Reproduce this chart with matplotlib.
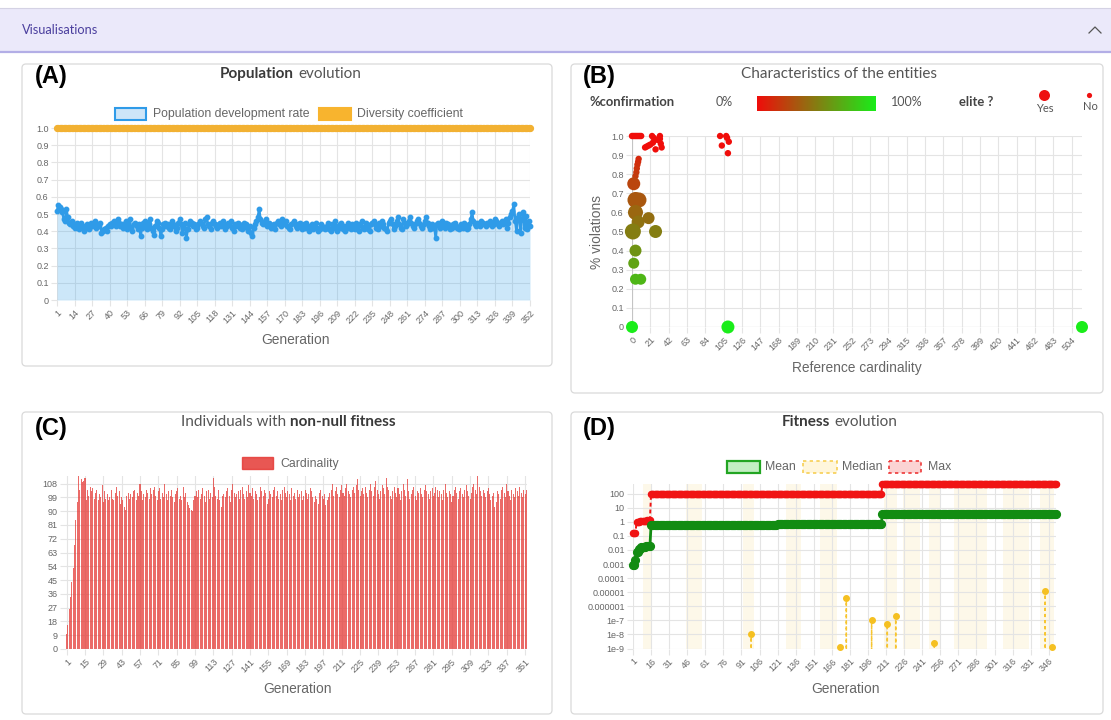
import numpy as np
import matplotlib
matplotlib.use("Agg")
import matplotlib.pyplot as plt
from matplotlib.patches import FancyBboxPatch, Rectangle
from matplotlib.colors import LinearSegmentedColormap

plt.rcParams["font.family"] = ["Liberation Sans", "DejaVu Sans"]

W, H = 1111, 720
TITLE_FONT = ["Lato", "DejaVu Sans"]
GRID = "#e4e4e4"
ZERO = "#c4c4c4"
TXT = "#666666"

# ---- (A) population evolution, values in hundredths -----------------------
dev_rate_pct = [
    52, 55, 54, 53, 51, 47, 46, 53, 48, 45, 44, 46, 43, 42, 44, 45, 41, 43, 45, 42,
    40, 43, 44, 42, 41, 45, 43, 44, 46, 42, 44, 43, 45, 39, 40, 41, 42, 40, 43, 44,
    43, 45, 46, 44, 43, 47, 45, 43, 44, 42, 44, 46, 41, 43, 47, 42, 40, 44, 45, 43,
    41, 44, 37, 42, 45, 46, 43, 41, 44, 47, 42, 40, 38, 43, 46, 45, 42, 37, 41, 44,
    45, 43, 44, 42, 41, 46, 44, 43, 40, 42, 45, 47, 44, 39, 42, 45, 36, 41, 44, 46,
    45, 43, 44, 41, 42, 44, 46, 45, 43, 42, 47, 48, 44, 43, 41, 45, 46, 44, 43, 42,
    44, 45, 43, 46, 44, 41, 43, 45, 44, 46, 42, 40, 44, 43, 45, 44, 42, 41, 43, 45,
    44, 42, 40, 43, 39, 37, 42, 44, 46, 48, 53, 47, 45, 44, 46, 47, 43, 45, 44, 42,
    43, 44, 41, 45, 46, 44, 43, 47, 45, 44, 46, 43, 42, 41, 44, 45, 46, 43, 42, 44,
    45, 43, 41, 44, 42, 45, 43, 40, 42, 44, 41, 43, 45, 42, 40, 41, 44, 43, 42, 41,
    43, 45, 41, 40, 44, 42, 46, 43, 40, 42, 44, 45, 41, 43, 40, 42, 45, 43, 41, 44,
    42, 41, 45, 43, 40, 44, 46, 42, 41, 45, 43, 41, 40, 44, 45, 46, 44, 42, 41, 45,
    43, 46, 44, 42, 41, 40, 45, 46, 47, 44, 41, 43, 46, 48, 44, 42, 41, 47, 45, 43,
    44, 46, 48, 45, 43, 42, 44, 46, 47, 45, 43, 42, 44, 46, 48, 45, 43, 41, 44, 42,
    43, 36, 44, 45, 42, 44, 46, 43, 42, 45, 44, 43, 41, 42, 44, 45, 43, 42, 41, 43,
    44, 42, 45, 43, 41, 42, 44, 47, 51, 46, 44, 43, 45, 44, 43, 46, 45, 44, 43, 45,
    44, 46, 45, 43, 44, 47, 46, 44, 43, 45, 46, 44, 45, 47, 42, 45, 48, 50, 52, 56,
    46, 40, 48, 50, 39, 47, 51, 42, 49, 41, 46, 43,
]
diversity_coeff = [1.0] * 352
a_ticks = list(range(1, 353, 13))

# ---- (B) characteristics of the entities ---------------------------------
ref_card = [0, 1.5, 3, 4.5, 6, 7.5, 9, 10.5,
            23, 25, 29, 32, 32, 33, 15, 19, 27, 21, 34, 17, 24,
            101, 108, 109, 111, 103, 110,
            7.6, 7, 6.2, 5.5, 5, 4,
            2, 4, 8, 4, 7, 19, 1, 27, 4, 2, 4, 10, 0, 110, 516]
violations = [1.0, 1.0, 1.0, 1.0, 1.0, 1.0, 1.0, 1.0,
              1.0, 0.99, 0.98, 1.0, 0.985, 0.96, 0.94, 0.95, 0.93, 0.955, 0.94, 0.945, 0.965,
              1.0, 1.0, 0.99, 0.97, 0.95, 0.91,
              0.88, 0.865, 0.85, 0.83, 0.81, 0.79,
              0.75, 0.665, 0.665, 0.6, 0.55, 0.57, 0.5, 0.5, 0.4, 0.334, 0.25, 0.25, 0, 0, 0]
confirmation = [0.0] * 27 + [0.12, 0.13, 0.15, 0.17, 0.19, 0.21,
                             0.25, 0.33, 0.33, 0.4, 0.45, 0.43, 0.5, 0.5, 0.6, 0.67,
                             0.75, 0.75, 1.0, 1.0, 1.0]
radius_px = [3.2] * 33 + [6.5, 8, 7.5, 7.5, 6.5, 6, 8, 6.5, 6, 5.5, 5.5, 5.5, 6, 6.5, 6]
b_xticks = list(range(0, 505, 21))

# ---- (C) individuals with non-null fitness ---------------------------------
cardinality = [
    10, 16, 26, 34, 44, 53, 68, 84, 96, 113, 104, 111, 109, 110, 112, 97, 104, 100, 106, 103,
    105, 98, 102, 104, 97, 101, 99, 107, 96, 103, 98, 101, 97, 99, 104, 98, 97, 102, 106, 100,
    103, 95, 99, 97, 93, 91, 100, 102, 98, 101, 99, 103, 104, 97, 102, 100, 108, 103, 97, 101,
    99, 104, 102, 98, 105, 101, 104, 106, 100, 97, 103, 105, 98, 102, 99, 108, 101, 97, 103, 100,
    104, 99, 96, 101, 103, 105, 98, 100, 97, 106, 99, 102, 96, 94, 92, 91, 90, 97, 100, 103,
    99, 104, 98, 101, 105, 100, 96, 103, 104, 98, 102, 99, 112, 106, 100, 98, 104, 97, 93, 100,
    101, 99, 103, 105, 100, 96, 104, 108, 102, 99, 101, 103, 98, 104, 106, 101, 98, 103, 99, 107,
    102, 100, 105, 98, 103, 101, 97, 99, 106, 103, 100, 104, 102, 95, 98, 103, 101, 99, 104, 106,
    100, 103, 98, 101, 97, 104, 106, 102, 99, 103, 101, 97, 105, 100, 102, 98, 104, 99, 101, 103,
    97, 100, 104, 102, 98, 101, 105, 103, 99, 96, 100, 98, 95, 102, 104, 100, 98, 101, 94, 97,
    99, 102, 104, 108, 100, 103, 106, 101, 99, 104, 107, 102, 100, 105, 108, 103, 101, 99, 104, 106,
    102, 107, 111, 104, 100, 103, 105, 101, 106, 102, 99, 104, 108, 103, 100, 106, 110, 104, 101, 98,
    103, 107, 105, 101, 112, 106, 104, 100, 98, 103, 106, 102, 99, 105, 101, 97, 103, 108, 104, 100,
    111, 103, 98, 101, 104, 106, 100, 97, 103, 102, 105, 101, 99, 104, 107, 103, 101, 98, 103, 105,
    100, 102, 106, 104, 99, 103, 101, 97, 104, 108, 102, 99, 103, 101, 96, 100, 104, 106, 102, 98,
    103, 105, 101, 99, 104, 107, 103, 100, 98, 102, 106, 108, 104, 101, 113, 106, 103, 100, 104, 102,
    99, 103, 105, 101, 97, 100, 102, 93, 96, 103, 101, 98, 104, 106, 102, 99, 108, 103, 100, 97,
    104, 101, 99, 105, 103, 100, 106, 102, 99, 104, 101, 104,
]
c_xticks = list(range(1, 353, 14))
c_yticks = list(range(0, 109, 9))

# ---- (D) fitness evolution (run-length encoded steps) -----------------------
max_vals = [0.16, 1.0, 1.1, 1.2, 1.3, 100, 480]
max_runs = [3, 3, 3, 3, 3, 192, 145]
mean_vals = [0.0008, 0.002, 0.0075, 0.011, 0.015, 0.018, 0.55, 0.58, 0.62, 0.66, 0.7, 0.73, 3.3]
mean_runs = [2, 1, 2, 2, 4, 4, 35, 35, 35, 35, 35, 17, 145]
median_gens = [99, 173, 178, 199, 212, 219, 251, 343, 349]
median_vals = [1.1e-8, 1.2e-9, 3.9e-6, 1e-7, 5.2e-8, 2e-7, 2.5e-9, 1.2e-5, 1.2e-9]
median_spans = [(9, 16), (45, 58), (92, 101), (128, 140), (156, 170), (209, 220),
                (225, 239), (247, 256), (267, 295), (308, 330), (339, 350)]
d_xticks = list(range(1, 353, 15))
d_yticks = [1e2, 1e1, 1, 1e-1, 1e-2, 1e-3, 1e-4, 1e-5, 1e-6, 1e-7, 1e-8, 1e-9]
d_ylabels = ["100", "10", "1", "0.1", "0.01", "0.001", "0.0001", "0.00001",
             "0.000001", "1e-7", "1e-8", "1e-9"]

gens = np.arange(1, 353)

fig = plt.figure(figsize=(W / 100, H / 100), dpi=100)
bg = fig.add_axes([0, 0, 1, 1])
bg.axis("off")
bg.set_zorder(-5)


def px_axes(x0, y0, x1, y1):
    ax = fig.add_axes([x0 / W, 1 - y1 / H, (x1 - x0) / W, (y1 - y0) / H])
    ax.set_facecolor("none")
    for s in ax.spines.values():
        s.set_visible(False)
    ax.grid(True, color=GRID, lw=0.8)
    ax.set_axisbelow(True)
    ax.tick_params(length=4, color=GRID, labelsize=6.5, labelcolor=TXT, pad=2)
    return ax


def rot_xticks(ax, ticks):
    ax.set_xticks(ticks, [str(t) for t in ticks], rotation=45, ha="right",
                  rotation_mode="anchor")


def title(y, parts):
    # parts: (text, bold, ha, x)
    for txt, bold, ha, xx in parts:
        bg.text(xx, y, txt, ha=ha, va="center", family=TITLE_FONT, size=11,
                weight="bold" if bold else "normal",
                color="#3a3a3a" if bold else "#555555")


def card(x0, y0, x1, y1):
    bg.add_patch(FancyBboxPatch((x0, y0), x1 - x0, y1 - y0,
                                boxstyle="round,pad=0,rounding_size=4",
                                fc="white", ec="#dadada", lw=0.9, zorder=1))


# header bar
bg.add_patch(Rectangle((0, 8), W, 44, fc="#ebe9fa", ec="none"))
bg.plot([0, W], [8, 8], color="#d4d2e4", lw=0.8)
bg.plot([0, W], [52, 52], color="#b3aee6", lw=1.6)
bg.text(22, 30, "Visualisations", ha="left", va="center", family=TITLE_FONT,
        size=9.2, color="#4b3f9e")
bg.plot([1089, 1095, 1101], [33, 27, 33], color="#555555", lw=0.9)

for box in [(22, 64, 552, 366), (571, 64, 1103, 393),
            (22, 412, 552, 714), (571, 412, 1103, 714)]:
    card(*box)

for lbl, x, y in [("(A)", 51, 77), ("(B)", 599, 77), ("(C)", 51, 429), ("(D)", 599, 429)]:
    bg.text(x, y, lbl, ha="center", va="center", size=17, weight="bold", color="black")

# ---------------- (A) ----------------
axA = px_axes(57, 128, 530, 300)
dev_rate = np.array(dev_rate_pct) / 100
axA.fill_between(gens, dev_rate, color=(54 / 255, 162 / 255, 235 / 255, 0.25), lw=0)
axA.plot(gens, diversity_coeff, color="#f2b132", lw=1.5, marker="o", ms=4.2,
         clip_on=False, zorder=3)
axA.plot(gens, dev_rate, color="#2f9be8", lw=1.8, marker="o", ms=3.2,
         clip_on=False, zorder=4)
axA.set_xlim(1, 352)
axA.set_ylim(0, 1)
axA.set_yticks(np.arange(0, 1.01, 0.1),
               ["0"] + [f"{v:.1f}" for v in np.arange(0.1, 1.01, 0.1)])
rot_xticks(axA, a_ticks)
axA.axhline(0, color=ZERO, lw=0.8)
title(74, [("Population", True, "right", 294), ("evolution", False, "left", 298)])
bg.add_patch(Rectangle((115, 108), 31, 12, fc="#cde5f8", ec="#2f9be8", lw=1.5, zorder=2))
bg.text(153, 114.5, "Population development rate", va="center", size=8.8, color=TXT)
bg.add_patch(Rectangle((319, 108), 32, 12, fc="#f8b42e", ec="#f8b42e", lw=1.5, zorder=2))
bg.text(357, 114.5, "Diversity coefficient", va="center", size=8.8, color=TXT)
bg.text(296, 340, "Generation", ha="center", va="center", size=9.9, color=TXT)

# ---------------- (B) ----------------
cmap = LinearSegmentedColormap.from_list("conf", [(0.94, 0.05, 0.04), (0.1, 0.93, 0.1)])
axB = px_axes(632, 136, 1082, 327)
axB.scatter(ref_card, violations, s=(1.44 * np.array(radius_px)) ** 2,
            c=cmap(np.array(confirmation)), lw=0, clip_on=False, zorder=3)
axB.set_xlim(0, 516)
axB.set_ylim(0, 1)
axB.set_yticks(np.arange(0, 1.01, 0.1),
               ["0"] + [f"{v:.1f}" for v in np.arange(0.1, 1.01, 0.1)])
rot_xticks(axB, b_xticks)
axB.axhline(0, color=ZERO, lw=0.8)
axB.axvline(0, color=ZERO, lw=0.8)
bg.text(839, 74, "Characteristics of the entities", ha="center", va="center",
        family=TITLE_FONT, size=11, color="#555555")
bg.text(589, 102, "%confirmation", va="center", family=TITLE_FONT, size=9.4,
        weight="bold", color="#444444")
bg.text(724, 102, "0%", ha="center", va="center", family=TITLE_FONT, size=9, color="#555555")
bg.imshow(np.linspace(0, 1, 256)[None, :], extent=(757, 876, 111, 96), cmap=cmap,
          aspect="auto", zorder=3)
bg.text(907, 102, "100%", ha="center", va="center", family=TITLE_FONT, size=9,
        color="#555555")
bg.text(959, 102, "elite ?", va="center", family=TITLE_FONT, size=9.4,
        weight="bold", color="#444444")
bg.scatter([1044], [95], s=(1.44 * 5.5) ** 2, color="#ee1111", lw=0, zorder=3)
bg.text(1045, 108, "Yes", ha="center", va="center", family=TITLE_FONT, size=8, color="#555555")
bg.scatter([1089], [95], s=(1.44 * 2.6) ** 2, color="#ee1111", lw=0, zorder=3)
bg.text(1090, 106, "No", ha="center", va="center", family=TITLE_FONT, size=8, color="#555555")
bg.text(857, 368, "Reference cardinality", ha="center", va="center", size=9.9, color=TXT)
bg.text(597, 232, "% violations", ha="center", va="center", rotation=90, size=9.9, color=TXT)

# ---------------- (C) ----------------
axC = px_axes(66, 476, 527, 649)
axC.bar(gens, cardinality, width=0.78, color="#e53935", alpha=0.75, lw=0)
axC.set_xlim(0.5, 352.5)
axC.set_ylim(0, 113)
axC.set_yticks(c_yticks, [str(v) for v in c_yticks])
rot_xticks(axC, c_xticks)
axC.axhline(0, color=ZERO, lw=0.8)
title(422, [("Individuals with", False, "right", 286), ("non-null fitness", True, "left", 290)])
bg.add_patch(Rectangle((242, 457), 31, 12, fc="#e53935", ec="#e53935", alpha=0.85, zorder=2))
bg.text(280, 463.5, "Cardinality", va="center", size=8.8, color=TXT)
bg.text(297, 689, "Generation", ha="center", va="center", size=9.9, color=TXT)

# ---------------- (D) ----------------
axD = px_axes(633, 484, 1056, 648.5)
axD.set_yscale("log")
mean_fit = np.repeat(mean_vals, mean_runs)
max_fit = np.repeat(max_vals, max_runs)
median_fit = np.zeros(len(gens))
median_fit[np.array(median_gens) - 1] = median_vals
for a, b in median_spans:
    axD.axvspan(a, b, color="#fdf3d8", alpha=0.55, lw=0, zorder=0)
axD.plot(gens, median_fit, color="#f7c531", lw=1.1, ls=(0, (2, 2)), zorder=2)
axD.plot(median_gens, median_vals, "o", color="#f5c021", ms=4, zorder=3, clip_on=False)
axD.plot(gens, max_fit, color="#f01414", lw=1.4, ls=(0, (2, 1.5)), marker="o", ms=4.4,
         clip_on=False, zorder=4)
axD.plot(gens, mean_fit, color="#128c12", lw=2, marker="o", ms=5.6, clip_on=False, zorder=5)
axD.set_xlim(1, 352)
axD.set_ylim(1e-9, 480)
axD.set_yticks(d_yticks, d_ylabels)
axD.minorticks_off()
rot_xticks(axD, d_xticks)
title(422, [("Fitness", True, "right", 830), ("evolution", False, "left", 834)])
bg.add_patch(Rectangle((727, 461), 33, 12, fc="#c3efc3", ec="#22a522", lw=1.6, zorder=2))
bg.text(765, 467.5, "Mean", va="center", size=8.8, color=TXT)
bg.add_patch(Rectangle((803, 461), 34, 12, fc="#fff6dc", ec="#f7cf55", lw=1.2,
                       ls=(0, (2, 2)), zorder=2))
bg.text(842, 467.5, "Median", va="center", size=8.8, color=TXT)
bg.add_patch(Rectangle((889, 461), 32, 12, fc="#fbd3d3", ec="#ee3a3a", lw=1.2,
                       ls=(0, (2, 2)), zorder=2))
bg.text(928, 467.5, "Max", va="center", size=8.8, color=TXT)
bg.text(845, 689, "Generation", ha="center", va="center", size=9.9, color=TXT)

bg.set_xlim(0, W)
bg.set_ylim(H, 0)

fig.savefig("out.png", dpi=100)
